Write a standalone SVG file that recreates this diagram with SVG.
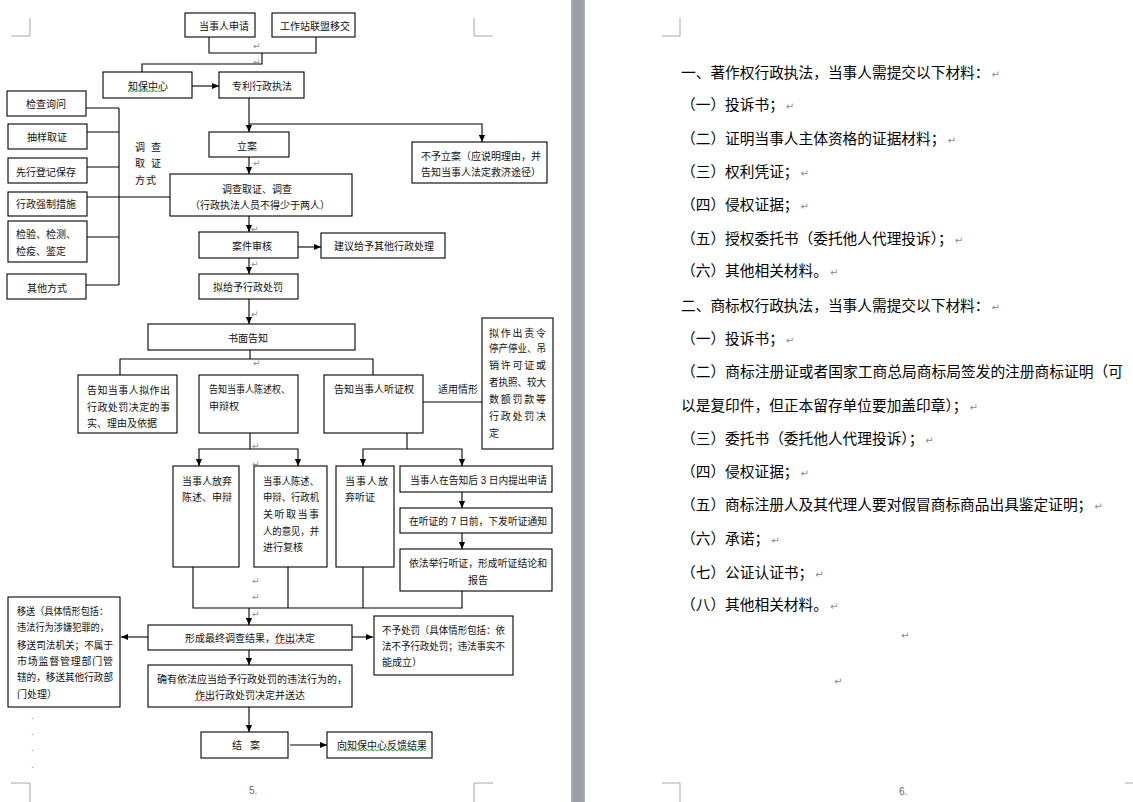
<svg xmlns="http://www.w3.org/2000/svg" width="1133" height="802" viewBox="0 0 1133 802">
<style>
.box{fill:#fff;stroke:#000;stroke-width:1.1}
.t{font-family:"Liberation Sans","Noto Sans CJK SC",sans-serif;font-size:10px;fill:#111}
.r{font-family:"Liberation Sans","Noto Sans CJK SC",sans-serif;font-size:14.7px;fill:#000}
.c{fill:none;stroke:#000;stroke-width:1.1}
.a{marker-end:url(#ah)}
.pm{font-family:"DejaVu Sans",sans-serif;font-size:9px;fill:#8a8a8a}
.rpm{font-family:"DejaVu Sans",sans-serif;font-size:10px;fill:#8a8a8a}
.crop{fill:none;stroke:#a8a8a8;stroke-width:1}
.pg{font-family:"Liberation Sans",sans-serif;font-size:10px;fill:#666}
.wg{fill:none;stroke:#3aa53a;stroke-width:1}
.wr{fill:none;stroke:#e03030;stroke-width:1}
</style>
<defs>
<marker id="ah" viewBox="0 0 8 8" refX="8" refY="4" markerWidth="7" markerHeight="7" markerUnits="userSpaceOnUse" orient="auto">
<path d="M0,0.5 L8,4 L0,7.5 z" fill="#000"/>
</marker>
<linearGradient id="bar" x1="0" y1="0" x2="1" y2="0">
<stop offset="0" stop-color="#b3b6bb"/>
<stop offset="0.12" stop-color="#a0a3a8"/>
<stop offset="0.5" stop-color="#9a9da2"/>
<stop offset="0.88" stop-color="#a0a3a8"/>
<stop offset="1" stop-color="#b8bbc0"/>
</linearGradient>
</defs>

<rect x="0" y="0" width="1133" height="802" fill="#fff"/>
<rect x="571" y="0" width="14" height="802" fill="url(#bar)"/>

<g id="crop-marks">
<path class="crop" d="M30,18 V36 H11"/>
<path class="crop" d="M474,18 V36 H493"/>
<path class="crop" d="M11,783 H30 V802"/>
<path class="crop" d="M493,783 H474 V802"/>
<path class="crop" d="M680,18 V36 H662"/>
<path class="crop" d="M662,783 H680 V802"/>
<path class="crop" d="M1125,783 H1133"/>
</g>

<g id="connectors">
<path class="c" d="M209,37 V53 H316 V37"/>
<path class="c" d="M262,53 V64 H142 V72"/>
<path class="c a" d="M192,86 H219"/>
<path class="c a" d="M249,98 V132"/>
<path class="c a" d="M249,124 H482 V142"/>
<path class="c a" d="M249,157 V174"/>
<path class="c" d="M86,108 H119 M87,132 H119 M87,167 H119 M87,237 H119 M86,285 H119 M119,108 V285"/>
<path class="c" d="M87,197 H170"/>
<path class="c a" d="M249,216 V232"/>
<path class="c a" d="M298,247 H321"/>
<path class="c a" d="M249,258 V274"/>
<path class="c a" d="M249,299 V324"/>
<path class="c" d="M250,350 V359 M120,375 V359 H373 V375"/>
<path class="c" d="M423,402 H482"/>
<path class="c" d="M250,433 V449"/>
<path class="c a" d="M250,449 H199 V466"/>
<path class="c a" d="M250,449 H298 V466"/>
<path class="c" d="M407,433 V449"/>
<path class="c a" d="M407,449 H363 V466"/>
<path class="c a" d="M407,449 H462 V466"/>
<path class="c a" d="M462,492 V508"/>
<path class="c a" d="M462,533 V549"/>
<path class="c" d="M193,567 V608 H462 V591 M288,567 V608 M363,567 V608"/>
<path class="c a" d="M249,608 V625"/>
<path class="c a" d="M148,637 H121"/>
<path class="c a" d="M352,637 H373"/>
<path class="c a" d="M249,650 V665"/>
<path class="c a" d="M249,707 V732"/>
<path class="c a" d="M290,745 H327"/>
</g>

<g id="n-apply"><rect class="box" x="185" y="13" width="70" height="24"/><text class="t" x="199" y="29.5">当事人申请</text></g>
<g id="n-transfer"><rect class="box" x="272" y="13" width="83" height="24"/><text class="t" x="280" y="29.5">工作站联盟移交</text></g>
<g id="n-center"><rect class="box" x="103" y="72" width="89" height="26"/><text class="t" x="128" y="89.5">知保中心</text><path class="wg" d="M128,92 l2,-1.5 l2,1.5 l2,-1.5 l2,1.5 l2,-1.5 l2,1.5 l2,-1.5 l2,1.5 l2,-1.5 l2,1.5 l2,-1.5 l2,1.5 l2,-1.5 l2,1.5 l2,-1.5 l2,1.5 l2,-1.5 l2,1.5"/></g>
<g id="n-patent"><rect class="box" x="219" y="72" width="85" height="26"/><text class="t" x="232" y="89.5">专利行政执法</text></g>
<g id="n-file"><rect class="box" x="209" y="132" width="80" height="25"/><text class="t" x="237" y="149.5">立案</text></g>
<g id="n-nofile"><rect class="box" x="412" y="142" width="135" height="41"/><text class="t" x="421" y="159.5">不予立案（应说明理由，并</text><text class="t" x="421" y="175.5">告知当事人法定救济途径）</text></g>
<g id="label-method"><text class="t" x="135" y="150.5" letter-spacing="6">调查</text><text class="t" x="135" y="166.5" letter-spacing="6">取证</text><text class="t" x="135" y="183.5" letter-spacing="1">方式</text></g>
<g id="n-m1"><rect class="box" x="7" y="91" width="79" height="25"/><text class="t" x="26" y="107.5">检查询问</text></g>
<g id="n-m2"><rect class="box" x="8" y="124" width="79" height="25"/><text class="t" x="27" y="140.5">抽样取证</text></g>
<g id="n-m3"><rect class="box" x="8" y="158" width="79" height="25"/><text class="t" x="16" y="175.5">先行登记保存</text></g>
<g id="n-m4"><rect class="box" x="8" y="192" width="79" height="24"/><text class="t" x="16" y="207.5">行政强制措施</text></g>
<g id="n-m5"><rect class="box" x="8" y="221" width="79" height="41"/><text class="t" x="16" y="237.5">检验、检测、</text><text class="t" x="16" y="254.5">检疫、鉴定</text></g>
<g id="n-m6"><rect class="box" x="7" y="274" width="79" height="25"/><text class="t" x="27" y="291.5">其他方式</text></g>
<g id="n-investigate"><rect class="box" x="170" y="174" width="182" height="42"/><text class="t" x="222" y="192.5">调查取证、调查</text><text class="t" x="190" y="208.5">（行政执法人员不得少于两人）</text></g>
<g id="n-review"><rect class="box" x="199" y="232" width="99" height="26"/><text class="t" x="232" y="249.5">案件审核</text></g>
<g id="n-other"><rect class="box" x="321" y="233" width="124" height="25"/><text class="t" x="334" y="250">建议给予其他行政处理</text></g>
<g id="n-propose"><rect class="box" x="199" y="274" width="99" height="25"/><text class="t" x="213" y="290.5">拟给予行政处罚</text></g>
<g id="n-notice"><rect class="box" x="148" y="324" width="207" height="26"/><text class="t" x="228" y="341.5">书面告知</text></g>
<g id="n-inform-facts"><rect class="box" x="78" y="375" width="99" height="58"/><text class="t" x="87" y="393.5" textLength="83" lengthAdjust="spacing">告知当事人拟作出</text><text class="t" x="87" y="410.5" textLength="83" lengthAdjust="spacing">行政处罚决定的事</text><text class="t" x="87" y="426.5">实、理由及依据</text></g>
<g id="n-inform-state"><rect class="box" x="199" y="375" width="99" height="58"/><text class="t" x="209" y="392.5" textLength="81" lengthAdjust="spacingAndGlyphs">告知当事人陈述权、</text><text class="t" x="209" y="409.5">申辩权</text></g>
<g id="n-inform-hearing"><rect class="box" x="324" y="375" width="99" height="58"/><text class="t" x="334" y="392.5">告知当事人听证权</text></g>
<g id="label-apply"><text class="t" x="438" y="392.5">适用情形</text></g>
<g id="n-cases"><rect class="box" x="482" y="318" width="71" height="131"/>
<text class="t" x="489" y="336.5" textLength="57" lengthAdjust="spacing">拟作出责令</text>
<text class="t" x="489" y="351.5" textLength="57" lengthAdjust="spacingAndGlyphs">停产停业、吊</text>
<text class="t" x="489" y="368.5" textLength="57" lengthAdjust="spacing">销许可证或</text>
<text class="t" x="489" y="385.5" textLength="57" lengthAdjust="spacingAndGlyphs">者执照、较大</text>
<text class="t" x="489" y="402.5" textLength="57" lengthAdjust="spacing">数额罚款等</text>
<text class="t" x="489" y="419.5" textLength="57" lengthAdjust="spacing">行政处罚决</text>
<text class="t" x="489" y="436.5">定</text></g>
<g id="n-waive-state"><rect class="box" x="173" y="466" width="66" height="101"/><text class="t" x="182" y="484.5" textLength="50" lengthAdjust="spacing">当事人放弃</text><text class="t" x="182" y="500.5">陈述、申辩</text></g>
<g id="n-state"><rect class="box" x="254" y="466" width="73" height="101"/>
<text class="t" x="263" y="484.5" textLength="56" lengthAdjust="spacingAndGlyphs">当事人陈述、</text>
<text class="t" x="263" y="500.5" textLength="56" lengthAdjust="spacingAndGlyphs">申辩、行政机</text>
<text class="t" x="263" y="517.5" textLength="56" lengthAdjust="spacing">关听取当事</text>
<text class="t" x="263" y="534.5" textLength="56" lengthAdjust="spacingAndGlyphs">人的意见，并</text>
<text class="t" x="263" y="550.5">进行复核</text></g>
<g id="n-waive-hearing"><rect class="box" x="336" y="466" width="58" height="101"/><text class="t" x="345" y="484.5" textLength="43" lengthAdjust="spacing">当事人放</text><text class="t" x="345" y="500.5">弃听证</text></g>
<g id="n-h1"><rect class="box" x="400" y="466" width="152" height="26"/><text class="t" x="410" y="483.5" textLength="137" lengthAdjust="spacingAndGlyphs">当事人在告知后 3 日内提出申请</text></g>
<g id="n-h2"><rect class="box" x="400" y="508" width="152" height="25"/><text class="t" x="409" y="524.5" textLength="138" lengthAdjust="spacingAndGlyphs">在听证的 7 日前，下发听证通知</text></g>
<g id="n-h3"><rect class="box" x="400" y="549" width="152" height="42"/><text class="t" x="409" y="566.5" textLength="138" lengthAdjust="spacingAndGlyphs">依法举行听证，形成听证结论和</text><text class="t" x="468" y="583.5">报告</text></g>
<g id="n-result"><rect class="box" x="148" y="625" width="204" height="25"/><text class="t" x="185" y="641.5">形成最终调查结果，作出决定</text><path class="wr" d="M275,644 l2,-1.5 l2,1.5 l2,-1.5 l2,1.5 l2,-1.5 l2,1.5 l2,-1.5 l2,1.5 l2,-1.5 l2,1.5"/></g>
<g id="n-transfer-out"><rect class="box" x="8" y="597" width="112" height="110"/>
<text class="t" x="17" y="614.5" textLength="91" lengthAdjust="spacingAndGlyphs">移送（具体情形包括：</text>
<text class="t" x="17" y="630.5" textLength="92" lengthAdjust="spacingAndGlyphs">违法行为涉嫌犯罪的，</text>
<text class="t" x="17" y="648.5" textLength="96" lengthAdjust="spacingAndGlyphs">移送司法机关；不属于</text>
<text class="t" x="17" y="664.5" textLength="96" lengthAdjust="spacing">市场监督管理部门管</text>
<text class="t" x="17" y="680.5" textLength="96" lengthAdjust="spacingAndGlyphs">辖的，移送其他行政部</text>
<text class="t" x="17" y="697.5">门处理）</text></g>
<g id="n-nopenalty"><rect class="box" x="374" y="616" width="139" height="59"/>
<text class="t" x="382" y="633.5" textLength="123" lengthAdjust="spacingAndGlyphs">不予处罚（具体情形包括：依</text>
<text class="t" x="382" y="649.5" textLength="123" lengthAdjust="spacingAndGlyphs">法不予行政处罚；违法事实不</text>
<text class="t" x="382" y="665.5">能成立）</text></g>
<g id="n-penalty"><rect class="box" x="148" y="665" width="204" height="42"/><text class="t" x="157" y="682.5">确有依法应当给予行政处罚的违法行为的，</text><text class="t" x="195" y="698.5">作出行政处罚决定并送达</text><path class="wr" d="M195,701 l2,-1.5 l2,1.5 l2,-1.5 l2,1.5 l2,-1.5 l2,1.5 l2,-1.5 l2,1.5 l2,-1.5"/></g>
<g id="n-close"><rect class="box" x="201" y="732" width="87" height="26"/><text class="t" y="748.5"><tspan x="232">结</tspan><tspan x="250">案</tspan></text></g>
<g id="n-feedback"><rect class="box" x="327" y="732" width="105" height="26"/><text class="t" x="337" y="748.5">向知保中心反馈结果</text><path class="wg" d="M337,751 l2,-1.5 l2,1.5 l2,-1.5 l2,1.5 l2,-1.5 l2,1.5 l2,-1.5 l2,1.5 l2,-1.5 l2,1.5 l2,-1.5 l2,1.5 l2,-1.5 l2,1.5 l2,-1.5 l2,1.5 l2,-1.5 l2,1.5 l2,-1.5 l2,1.5 l2,-1.5 l2,1.5 l2,-1.5 l2,1.5 l2,-1.5 l2,1.5 l2,-1.5 l2,1.5 l2,-1.5 l2,1.5 l2,-1.5 l2,1.5 l2,-1.5 l2,1.5 l2,-1.5 l2,1.5 l2,-1.5 l2,1.5 l2,-1.5 l2,1.5 l2,-1.5 l2,1.5 l2,-1.5 l2,1.5"/></g>

<g id="para-marks-left">
<text class="pm" x="253" y="49">↵</text>
<text class="pm" x="253" y="65">↵</text>
<text class="pm" x="253" y="166">↵</text>
<text class="pm" x="251" y="232">↵</text>
<text class="pm" x="251" y="267">↵</text>
<text class="pm" x="251" y="317">↵</text>
<text class="pm" x="253" y="366">↵</text>
<text class="pm" x="252" y="449">↵</text>
<text class="pm" x="252" y="467">↵</text>
<text class="pm" x="252" y="584">↵</text>
<text class="pm" x="252" y="600">↵</text>
<text class="pm" x="252" y="617">↵</text>
<text class="pm" x="31" y="719">.</text>
<text class="pm" x="31" y="735">.</text>
<text class="pm" x="31" y="751">.</text>
<text class="pm" x="31" y="768">.</text>
</g>
<text class="pg" x="249" y="794">5.</text>

<g id="materials">
<text class="r" x="681" y="77.5">一、著作权行政执法，当事人需提交以下材料：<tspan class="rpm" dx="2">↵</tspan></text>
<text class="r" x="681" y="109.5">（一）投诉书；<tspan class="rpm" dx="2">↵</tspan></text>
<text class="r" x="681" y="143.5">（二）证明当事人主体资格的证据材料；<tspan class="rpm" dx="2">↵</tspan></text>
<text class="r" x="681" y="176.5">（三）权利凭证；<tspan class="rpm" dx="2">↵</tspan></text>
<text class="r" x="681" y="209.5">（四）侵权证据；<tspan class="rpm" dx="2">↵</tspan></text>
<text class="r" x="681" y="243.5">（五）授权委托书（委托他人代理投诉）；<tspan class="rpm" dx="2">↵</tspan></text>
<text class="r" x="681" y="275.5">（六）其他相关材料。<tspan class="rpm" dx="2">↵</tspan></text>
<text class="r" x="681" y="310.5">二、商标权行政执法，当事人需提交以下材料：<tspan class="rpm" dx="2">↵</tspan></text>
<text class="r" x="681" y="343.5">（一）投诉书；<tspan class="rpm" dx="2">↵</tspan></text>
<text class="r" x="681" y="376.5" textLength="442" lengthAdjust="spacingAndGlyphs">（二）商标注册证或者国家工商总局商标局签发的注册商标证明（可</text>
<text class="r" x="681" y="410.5">以是复印件，但正本留存单位要加盖印章）；<tspan class="rpm" dx="2">↵</tspan></text>
<text class="r" x="681" y="443.5">（三）委托书（委托他人代理投诉）；<tspan class="rpm" dx="2">↵</tspan></text>
<text class="r" x="681" y="476.5">（四）侵权证据；<tspan class="rpm" dx="2">↵</tspan></text>
<text class="r" x="681" y="509.5">（五）商标注册人及其代理人要对假冒商标商品出具鉴定证明；<tspan class="rpm" dx="2">↵</tspan></text>
<text class="r" x="681" y="543.5">（六）承诺；<tspan class="rpm" dx="2">↵</tspan></text>
<text class="r" x="681" y="577.5">（七）公证认证书；<tspan class="rpm" dx="2">↵</tspan></text>
<text class="r" x="681" y="609.5">（八）其他相关材料。<tspan class="rpm" dx="2">↵</tspan></text>
<text class="rpm" x="901" y="639">↵</text>
<text class="rpm" x="834" y="685">↵</text>
</g>
<text class="pg" x="899" y="795">6.</text>
</svg>
